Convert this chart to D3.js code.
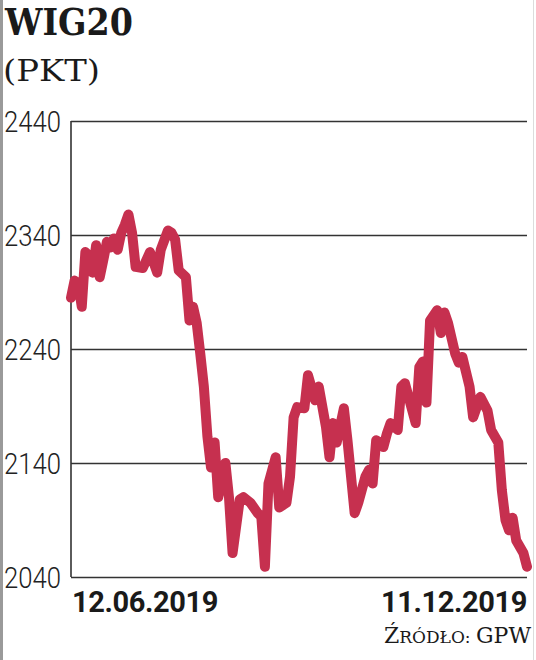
<!DOCTYPE html>
<html>
<head>
<meta charset="utf-8">
<script src="https://cdn.jsdelivr.net/npm/d3@7"></script>
<style>
  body { margin: 0; background: #fff; }
  svg { display: block; }
  .serif { font-family: "DejaVu Serif", "Noto Serif", "Liberation Serif", serif; }
  .narrow { font-family: "Roboto", "Liberation Sans", "DejaVu Sans", sans-serif; }
</style>
</head>
<body>
<div id="chart"></div>
<script>
// WIG20, trading-day index (0 = 12.06.2019, 127 = 11.12.2019) and closing level
var days = [0, 1, 2, 3, 4, 5, 6, 7, 8, 9, 10, 11, 12, 13, 14, 15, 16, 17, 18, 20,
    21, 22, 24, 25, 27, 28, 29, 30, 32, 33, 34, 35, 36, 37, 38, 39, 40, 41, 43, 44,
    45, 47, 48, 50, 52, 53, 54, 55, 57, 58, 60, 61, 62, 63, 65, 66, 68, 69, 71, 72,
    73, 74, 76, 77, 79, 80, 82, 83, 84, 85, 87, 88, 89, 91, 92, 93, 96, 97, 98, 99,
    100, 102, 103, 104, 105, 107, 108, 109, 111, 112, 114, 116, 117, 119, 120, 121, 122, 123, 124, 126,
    127];
var values = [2285, 2300, 2298, 2277, 2325, 2322, 2307, 2331, 2303, 2318, 2334, 2329, 2337, 2327, 2342, 2349, 2358, 2342, 2312, 2311,
    2318, 2325, 2307, 2327, 2344, 2342, 2336, 2309, 2303, 2265, 2277, 2263, 2236, 2207, 2163, 2136, 2158, 2110, 2140, 2110,
    2061, 2108, 2110, 2105, 2096, 2093, 2049, 2122, 2145, 2101, 2105, 2128, 2180, 2189, 2188, 2217, 2195, 2207, 2172, 2145,
    2175, 2158, 2188, 2160, 2096, 2105, 2128, 2134, 2122, 2160, 2154, 2166, 2175, 2169, 2207, 2210, 2175, 2224, 2229, 2193,
    2265, 2274, 2254, 2272, 2263, 2236, 2228, 2233, 2207, 2180, 2198, 2186, 2169, 2158, 2116, 2090, 2081, 2092, 2072, 2061,
    2049];
var yTicks = [2040, 2140, 2240, 2340, 2440];
var xLabels = ["12.06.2019", "11.12.2019"];

var W = 536, H = 660;
var margin = {top: 121, right: 9, bottom: 83, left: 71},
    width = W - margin.left - margin.right,
    height = H - margin.top - margin.bottom;

var svg = d3.select("#chart")
    .append("svg")
    .attr("width", W)
    .attr("height", H);

// page edges
svg.append("rect")
    .attr("x", 0).attr("y", 0)
    .attr("width", 3).attr("height", H)
    .attr("fill", "#9a9a9a");
svg.append("line")
    .attr("x1", 533.5).attr("x2", 533.5)
    .attr("y1", 0).attr("y2", H)
    .attr("stroke", "#dcdcdc");

// Title
svg.append("text")
    .attr("class", "serif")
    .attr("x", 5).attr("y", 35)
    .attr("font-weight", "bold")
    .attr("font-size", 37)
    .attr("textLength", 128)
    .attr("lengthAdjust", "spacingAndGlyphs")
    .attr("fill", "#1a1a1a")
    .text("WIG20");

svg.append("text")
    .attr("class", "serif")
    .attr("x", 3).attr("y", 81)
    .attr("font-size", 30)
    .attr("textLength", 97)
    .attr("lengthAdjust", "spacingAndGlyphs")
    .attr("fill", "#1a1a1a")
    .text("(PKT)");

var g = svg.append("g")
    .attr("transform", `translate(${margin.left},${margin.top})`);

var x = d3.scaleLinear()
    .domain([0, 127])
    .range([0, width]);

var y = d3.scaleLinear()
    .domain([2040, 2440])
    .range([height, 0]);

// Grid lines
g.append("g")
    .call(d3.axisLeft(y).tickValues(yTicks).tickSize(-width).tickFormat(""))
    .call(s => s.select(".domain").remove())
    .selectAll("line")
    .attr("stroke", "#333")
    .attr("stroke-width", 1.6);

// Left axis line
g.append("line")
    .attr("x1", 0).attr("x2", 0)
    .attr("y1", 0).attr("y2", height)
    .attr("stroke", "#333")
    .attr("stroke-width", 1.6);

// Y labels
g.selectAll(".ylab")
    .data(yTicks)
    .join("text")
    .attr("class", "ylab narrow")
    .attr("x", 4 - margin.left)
    .attr("y", d => y(d) + 11)
    .attr("font-size", 30)
    .attr("font-weight", 300)
    .attr("textLength", 57)
    .attr("lengthAdjust", "spacingAndGlyphs")
    .attr("fill", "#222")
    .text(d => d);

// Line
var line = d3.line()
    .x((d, i) => x(days[i]))
    .y(d => y(d));

g.append("path")
    .datum(values)
    .attr("fill", "none")
    .attr("stroke", "#c6304f")
    .attr("stroke-width", 10)
    .attr("stroke-linejoin", "round")
    .attr("stroke-linecap", "round")
    .attr("d", line);

// X labels
g.append("text")
    .attr("class", "narrow")
    .attr("x", 1)
    .attr("y", height + 35)
    .attr("font-weight", "bold")
    .attr("font-size", 29)
    .attr("letter-spacing", -0.4)
    .attr("fill", "#1a1a1a")
    .text(xLabels[0]);

g.append("text")
    .attr("class", "narrow")
    .attr("x", width)
    .attr("y", height + 35)
    .attr("text-anchor", "end")
    .attr("font-weight", "bold")
    .attr("font-size", 29)
    .attr("letter-spacing", -0.4)
    .attr("fill", "#1a1a1a")
    .text(xLabels[1]);

// Source
var src = svg.append("text")
    .attr("class", "serif")
    .attr("x", 531).attr("y", 643)
    .attr("text-anchor", "end")
    .attr("fill", "#1a1a1a");
src.append("tspan").attr("font-size", 22).text("Ź");
src.append("tspan").attr("font-size", 17).text("RÓDŁO: ");
src.append("tspan").attr("font-size", 22).text("GPW");
</script>
</body>
</html>
